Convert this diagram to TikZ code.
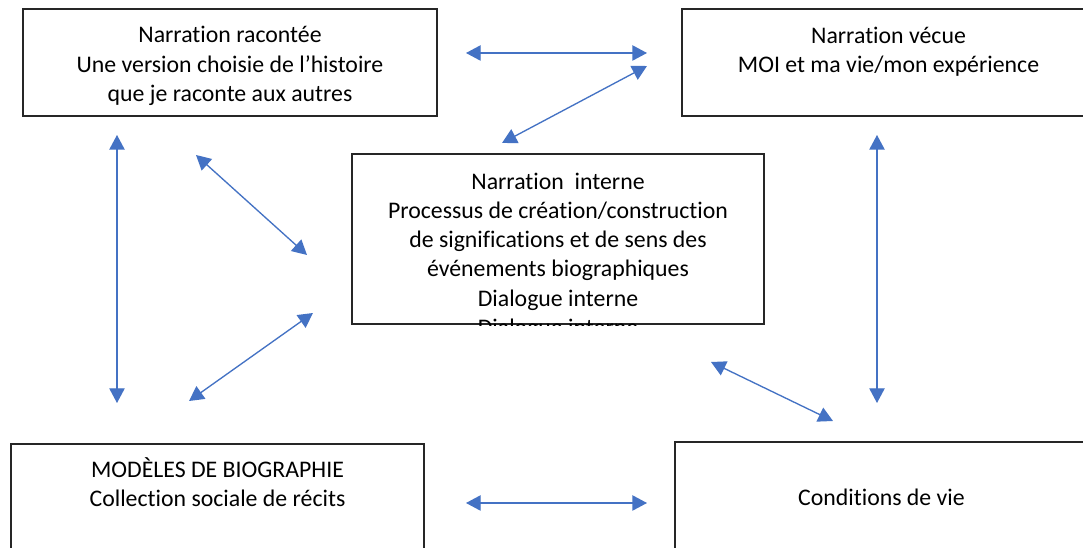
\documentclass[tikz,border=0pt]{standalone}
\usepackage{fontspec}
\setmainfont{Carlito}[Ligatures=NoCommon]
\usetikzlibrary{arrows.meta}
\definecolor{arrowblue}{HTML}{4472C4}
\tikzset{
  boxshape/.style={draw=black!85, line width=0.9pt, fill=none, rectangle, inner sep=0pt},
  boxtext/.style={anchor=north, inner sep=0pt, align=center, text=black,
    font={\fontsize{17.85pt}{21.9pt}\selectfont}},
  link/.style={draw=arrowblue, line width=1pt,
    {Triangle[length=11pt,width=11.5pt]}-{Triangle[length=11pt,width=11.5pt]}}
}
\begin{document}
\begin{tikzpicture}[x=0.75pt,y=-0.75pt]
\useasboundingbox (0,0) rectangle (1083,548);
\fill[white] (0,0) rectangle (1083,548);
\clip (0,0) rectangle (1083,548);

% boxes
\node[boxshape, minimum width=414*0.75pt, minimum height=107*0.75pt] (nr) at (230,62.5) {};
\node[boxshape, minimum width=413*0.75pt, minimum height=107*0.75pt] (nv) at (888.5,62.5) {};
\node[boxshape, minimum width=412*0.75pt, minimum height=170*0.75pt] (ni) at (558,239) {};
\node[boxshape, minimum width=413*0.75pt, minimum height=126*0.75pt] (mb) at (217.5,507) {};
\node[boxshape, minimum width=413*0.75pt, minimum height=126*0.75pt] (cv) at (881.5,505) {};

% texts
\node[boxtext] (nrt) at (230,22.2) {\strut Narration racontée\\Une version choisie de l’histoire\\que je raconte aux autres};
\node[boxtext] (nvt) at (888.5,22.7) {\strut Narration vécue\\MOI et ma vie/mon expérience};
\begin{scope}
\clip ([shift={(0.6pt,-0.6pt)}]ni.south west) rectangle ([shift={(-0.6pt,0.6pt)}]ni.north east);
\node[boxtext] (nit) at (558,168.5) {\strut Narration\ \ interne\\Processus de création/construction\\de significations et de sens des\\événements biographiques\\Dialogue interne\\Dialogue interne};
\end{scope}
\node[boxtext] (mbt) at (217.5,456.4) {\strut MODÈLES DE BIOGRAPHIE\\Collection sociale de récits};
\node[boxtext] (cvt) at (881.5,484.7) {\strut Conditions de vie};

% arrow end points
\coordinate (a1) at (466,53);  \coordinate (a2) at (647,53);
\coordinate (b1) at (502,143); \coordinate (b2) at (647,66);
\coordinate (c1) at (117,135); \coordinate (c2) at (117,403);
\coordinate (d1) at (196,155); \coordinate (d2) at (307,255);
\coordinate (e1) at (189,401); \coordinate (e2) at (313,313);
\coordinate (f1) at (877,135); \coordinate (f2) at (877,403);
\coordinate (g1) at (711,362); \coordinate (g2) at (833,421);
\coordinate (h1) at (466,503); \coordinate (h2) at (647,503);

\draw[link] (a1) -- (a2);
\draw[link] (b1) -- (b2);
\draw[link] (c1) -- (c2);
\draw[link] (d1) -- (d2);
\draw[link] (e1) -- (e2);
\draw[link] (f1) -- (f2);
\draw[link] (g1) -- (g2);
\draw[link] (h1) -- (h2);
\end{tikzpicture}
\end{document}
